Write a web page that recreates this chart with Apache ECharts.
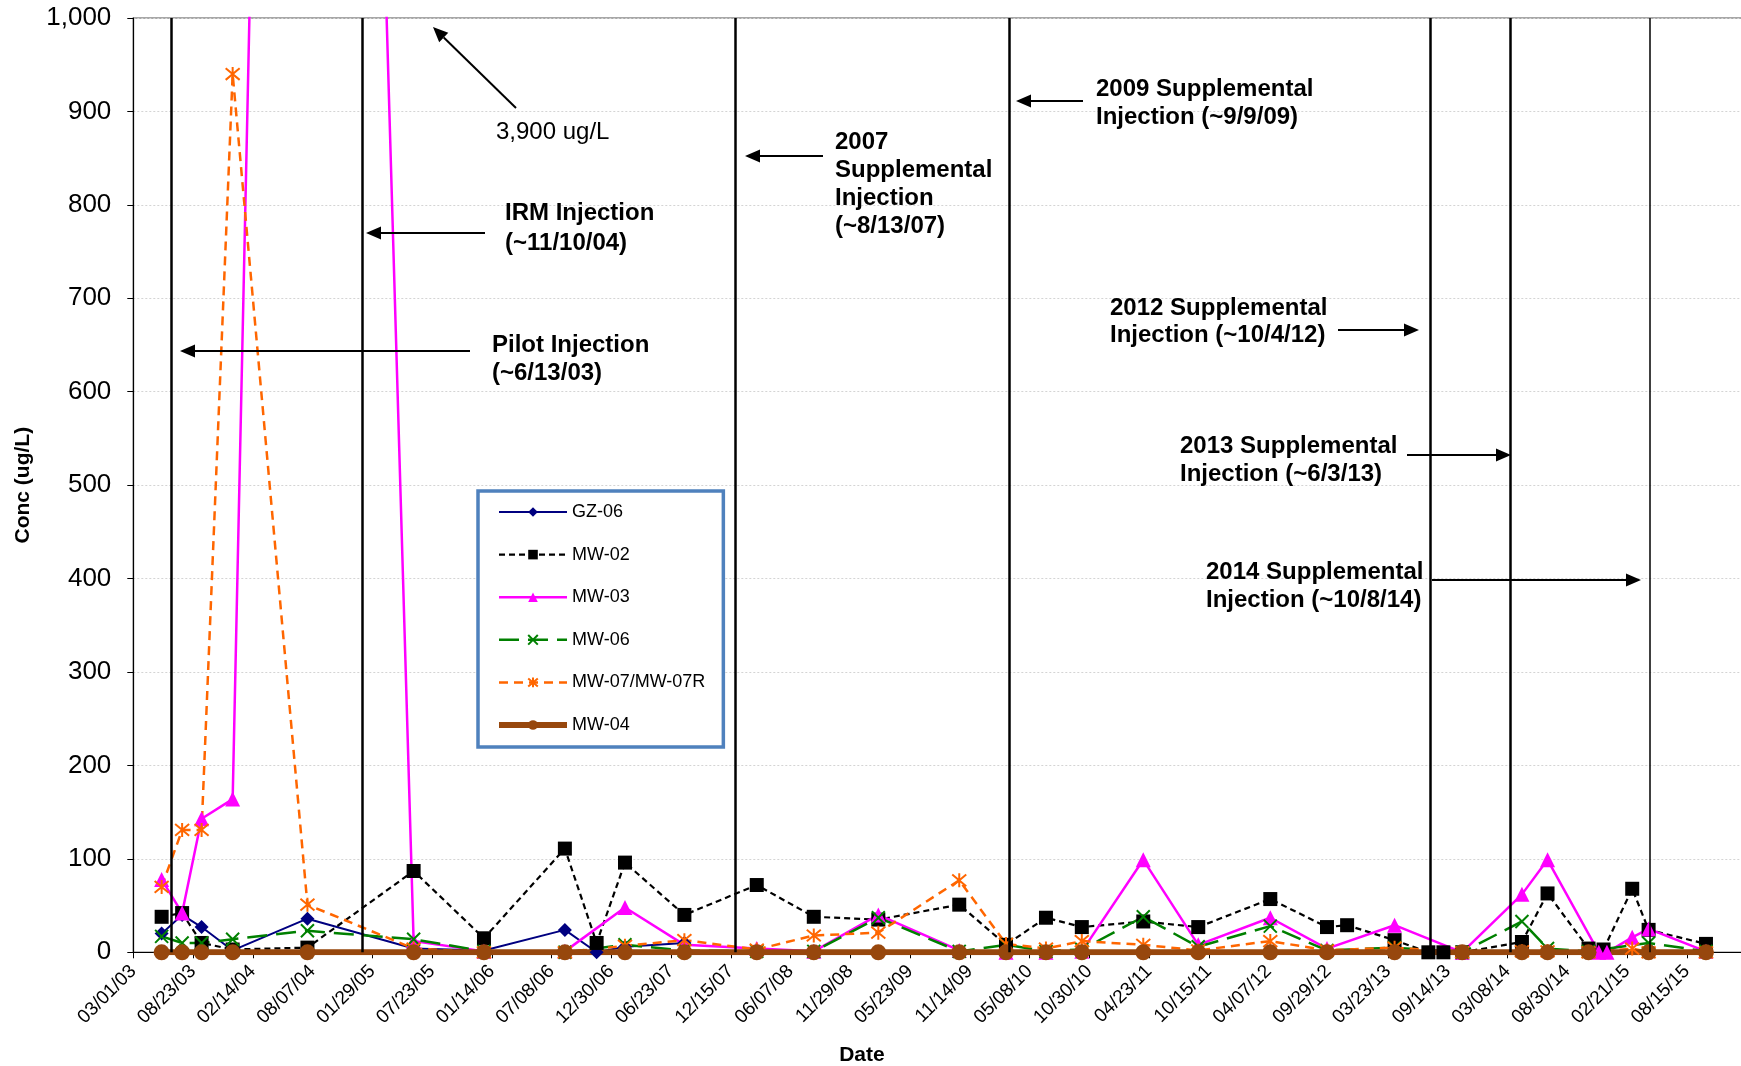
<!DOCTYPE html>
<html>
<head>
<meta charset="utf-8">
<script src="https://cdn.jsdelivr.net/npm/echarts@6/dist/echarts.min.js"></script>
<style>
  html, body { margin: 0; padding: 0; background: #ffffff; }
  #chart { width: 1741px; height: 1066px; }
</style>
</head>
<body>
<div id="chart"></div>
<script>
// ---- Sampling data, concentrations in ug/L ----
const gz06Dates  = ['05/23/03','07/22/03','09/17/03','12/17/03','07/23/04','05/30/05','12/22/05','08/16/06','11/17/06','02/08/07','08/01/07'];
const gz06Values = [20, 40, 27, 2, 36, 4, 2, 24, 0, 6, 10];

const mw02Dates  = ['05/23/03','07/22/03','09/17/03','12/17/03','07/23/04','05/30/05','12/22/05','08/16/06','11/17/06','02/08/07','08/01/07','02/29/08','08/14/08','02/19/09','10/14/09','02/28/10','06/25/10','10/08/10','04/06/11','09/14/11','04/12/12','09/25/12','11/23/12','04/11/13','07/19/13','09/01/13','10/26/13','04/19/14','07/03/14','10/31/14','12/14/14','03/08/15','04/25/15','10/10/15'];
const mw02Values = [38, 42, 10, 3, 5, 87, 15, 111, 10, 96, 40, 72, 38, 35, 51, 8, 37, 27, 33, 27, 57, 27, 29, 13, 0, 0, 0, 11, 63, 4, 3, 68, 24, 9];

const mw03Dates  = ['05/23/03','07/22/03','09/17/03','12/17/03','07/23/04','05/30/05','12/22/05','08/16/06','02/08/07','08/01/07','02/29/08','08/14/08','02/19/09','10/14/09','02/28/10','06/25/10','10/08/10','04/06/11','09/14/11','04/12/12','09/25/12','04/11/13','10/26/13','04/19/14','07/03/14','11/30/14','12/24/14','03/08/15','04/25/15','10/10/15'];
const mw03Values = [78, 42, 143, 164, 3900, 12, 1, 1, 48, 8, 4, 1, 40, 2, 0, 0, 1, 99, 8, 37, 4, 29, 0, 62, 99, 0, 0, 16, 25, 1];

const mw06Dates  = ['05/23/03','07/22/03','09/17/03','12/17/03','07/23/04','05/30/05','12/22/05','08/16/06','02/08/07','08/01/07','02/29/08','08/14/08','02/19/09','10/14/09','02/28/10','06/25/10','10/08/10','04/06/11','09/14/11','04/12/12','09/25/12','04/11/13','10/26/13','04/19/14','07/03/14','10/31/14','04/25/15','10/10/15'];
const mw06Values = [17, 10, 10, 14, 23, 14, 1, 0, 8, 2, 1, 1, 37, 1, 8, 1, 3, 38, 6, 28, 2, 5, 0, 33, 4, 1, 10, 1];

const mw07Dates  = ['05/23/03','07/22/03','09/17/03','12/17/03','07/23/04','05/30/05','12/22/05','08/16/06','02/08/07','08/01/07','02/29/08','08/14/08','02/19/09','10/14/09','02/28/10','06/25/10','10/08/10','04/06/11','09/14/11','04/12/12','09/25/12','04/11/13','10/26/13','04/19/14','07/03/14','10/31/14','03/08/15','04/25/15','10/10/15'];
const mw07Values = [70, 131, 131, 940, 51, 4, 0, 0, 7, 13, 3, 18, 21, 77, 9, 4, 12, 8, 2, 12, 2, 5, 0, 1, 1, 0, 4, 0, 0];

const mw04Dates  = ['05/23/03','07/22/03','09/17/03','12/17/03','07/23/04','05/30/05','12/22/05','08/16/06','02/08/07','08/01/07','02/29/08','08/14/08','02/19/09','10/14/09','02/28/10','06/25/10','10/08/10','04/06/11','09/14/11','04/12/12','09/25/12','04/11/13','10/26/13','04/19/14','07/03/14','10/31/14','04/25/15','10/10/15'];
const mw04Values = [0, 0, 0, 0, 0, 0, 0, 0, 0, 0, 0, 0, 0, 0, 0, 0, 0, 0, 0, 0, 0, 0, 0, 0, 0, 0, 0, 0];

// Injection event markers (vertical lines)
const injectionDates = ['06/19/03','12/31/04','12/27/07','03/10/10','07/25/13','03/16/14','04/27/15'];

// Axis settings
const axisStartDate = '03/01/03';
const tickStepDays = 175;
const tickCount = 27;
const yMax = 1000;
const yStep = 100;

// ---- helpers ----
const DAY = 86400000;
function utcOf(s) { const p = s.split('/').map(Number); return Date.UTC(2000 + p[2], p[0] - 1, p[1]); }
const BASE = utcOf(axisStartDate);
function dayOf(s) { return Math.round((utcOf(s) - BASE) / DAY); }
function fmtDay(v) {
  const d = new Date(BASE + v * DAY);
  const two = n => String(n).padStart(2, '0');
  return two(d.getUTCMonth() + 1) + '/' + two(d.getUTCDate()) + '/' + two(d.getUTCFullYear() % 100);
}
function pairs(dates, values) { return dates.map((d, i) => [dayOf(d), values[i]]); }
function commas(v) { return String(v).replace(/\B(?=(\d{3})+(?!\d))/g, ','); }

const FONT = '"Liberation Sans", Arial, Helvetica, sans-serif';

function well(name, dates, values, color, lineType, lineWidth, symbol, symbolSize, stroked) {
  return {
    name: name,
    type: 'line',
    data: pairs(dates, values),
    clip: true,
    showSymbol: true,
    symbol: symbol,
    symbolSize: symbolSize,
    lineStyle: { color: color, width: lineWidth, type: lineType },
    itemStyle: stroked
      ? { color: color, borderColor: color, borderWidth: 2 }
      : { color: color, borderWidth: 0 },
    emphasis: { disabled: true },
    animation: false
  };
}

const xMark = 'path://M0 0L10 10M10 0L0 10';
const starMark = 'path://M0 0L10 10M10 0L0 10M5 -1L5 11';

const wells = [
  well('GZ-06', gz06Dates, gz06Values, '#000080', 'solid', 2, 'diamond', 14, false),
  well('MW-02', mw02Dates, mw02Values, '#000000', [6, 4], 2.2, 'rect', 14, false),
  well('MW-03', mw03Dates, mw03Values, '#FF00FF', 'solid', 2.5, 'triangle', 15, false),
  well('MW-06', mw06Dates, mw06Values, '#008000', [20, 9], 2.5, xMark, 13, true),
  well('MW-07/MW-07R', mw07Dates, mw07Values, '#FF6600', [9, 6], 2.5, starMark, 14, true),
  well('MW-04', mw04Dates, mw04Values, '#97470D', 'solid', 6, 'circle', 16, false)
];

const series = wells.concat([{
  name: 'injections',
  type: 'line',
  data: [],
  silent: true,
  animation: false,
  markLine: {
    silent: true,
    symbol: ['none', 'none'],
    label: { show: false },
    animation: false,
    data: injectionDates.map((d, i) => ({
      xAxis: dayOf(d),
      lineStyle: { color: '#000', width: i === injectionDates.length - 1 ? 1.5 : 2.5, type: 'solid' }
    }))
  }
}]);

// legend entries repeat each well's own stroke
const legendItems = wells.map(s => ({
  name: s.name,
  lineStyle: { width: s.lineStyle.width, type: s.lineStyle.type, color: s.lineStyle.color }
}));

// ---- annotations (pixel layout) ----
function arrow(x1, y1, x2, y2) {
  const len = 15, half = 6.5;
  const dx = x2 - x1, dy = y2 - y1, L = Math.hypot(dx, dy);
  const ux = dx / L, uy = dy / L;
  const bx = x2 - ux * len, by = y2 - uy * len;
  return [
    { type: 'line', shape: { x1: x1, y1: y1, x2: bx, y2: by }, style: { stroke: '#000', lineWidth: 2 }, z: 100 },
    { type: 'polygon', shape: { points: [[x2, y2], [bx - uy * half, by + ux * half], [bx + uy * half, by - ux * half]] }, style: { fill: '#000' }, z: 100 }
  ];
}
function label(x, y, text, bold) {
  return {
    type: 'text', x: x, y: y, z: 100,
    style: { text: text, fill: '#000', font: (bold ? 'bold ' : '') + '24px ' + FONT, align: 'left', verticalAlign: 'middle' }
  };
}

const graphics = [].concat(
  label(496, 132, '3,900 ug/L', false),
  arrow(516, 108, 433, 27),
  label(505, 213, 'IRM Injection', true),
  label(505, 243, '(~11/10/04)', true),
  arrow(485, 233, 366, 233),
  label(492, 345, 'Pilot Injection', true),
  label(492, 373, '(~6/13/03)', true),
  arrow(470, 351, 180, 351),
  label(835, 142, '2007', true),
  label(835, 170, 'Supplemental', true),
  label(835, 198, 'Injection', true),
  label(835, 226, '(~8/13/07)', true),
  arrow(823, 156, 745, 156),
  label(1096, 89, '2009 Supplemental', true),
  label(1096, 117, 'Injection (~9/9/09)', true),
  arrow(1083, 101, 1016, 101),
  label(1110, 308, '2012 Supplemental', true),
  label(1110, 335, 'Injection (~10/4/12)', true),
  arrow(1338, 330, 1419, 330),
  label(1180, 446, '2013 Supplemental', true),
  label(1180, 474, 'Injection (~6/3/13)', true),
  arrow(1407, 455, 1511, 455),
  label(1206, 572, '2014 Supplemental', true),
  label(1206, 600, 'Injection (~10/8/14)', true),
  arrow(1432, 580, 1641, 580)
);

const chart = echarts.init(document.getElementById('chart'), null, { renderer: 'canvas' });
chart.setOption({
  backgroundColor: '#ffffff',
  animation: false,
  textStyle: { fontFamily: FONT, color: '#000' },
  grid: {
    left: 133.3, top: 18, right: -5.6, bottom: 113.7,
    containLabel: false,
    outerBoundsMode: 'none',
    show: true, borderColor: '#8a8a8a', borderWidth: 1.5, backgroundColor: 'transparent'
  },
  xAxis: {
    type: 'value',
    min: 0,
    max: tickStepDays * tickCount,
    interval: tickStepDays,
    name: 'Date',
    nameLocation: 'middle',
    nameGap: 92,
    nameTextStyle: { fontFamily: FONT, fontSize: 21, fontWeight: 'bold', color: '#000', padding: [0, 156, 0, 0] },
    axisLine: { show: true, onZero: false, lineStyle: { color: '#000', width: 1.2 } },
    axisTick: { show: true, length: 6, lineStyle: { color: '#000', width: 1 } },
    axisLabel: {
      rotate: 45, margin: 16, fontSize: 19, color: '#000', fontFamily: FONT,
      showMaxLabel: false, formatter: v => fmtDay(v)
    },
    splitLine: { show: false }
  },
  yAxis: {
    type: 'value',
    min: 0,
    max: yMax,
    interval: yStep,
    name: 'Conc (ug/L)',
    nameLocation: 'middle',
    nameGap: 100,
    nameTextStyle: { fontFamily: FONT, fontSize: 21, fontWeight: 'bold', color: '#000' },
    axisLine: { show: true, lineStyle: { color: '#000', width: 1.2 } },
    axisTick: { show: true, length: 6, lineStyle: { color: '#000', width: 1 } },
    axisLabel: { margin: 22, fontSize: 26, color: '#000', fontFamily: FONT, formatter: v => commas(v) },
    splitLine: { show: true, lineStyle: { color: '#d4d4d4', width: 1, type: [2, 2] } }
  },
  legend: {
    data: legendItems,
    orient: 'vertical',
    left: 478,
    top: 491,
    itemWidth: 68,
    itemHeight: 12,
    itemGap: 22.6,
    padding: [11, 18, 12, 18],
    backgroundColor: '#ffffff',
    borderColor: '#4F81BD',
    borderWidth: 3.5,
    selectedMode: false,
    textStyle: { fontFamily: FONT, fontSize: 18, color: '#000', lineHeight: 20 }
  },
  series: series,
  graphic: graphics
});
</script>
</body>
</html>
